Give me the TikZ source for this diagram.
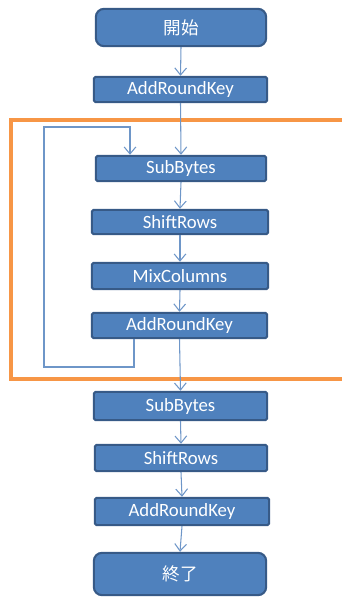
\documentclass[tikz,border=0pt]{standalone}
\usepackage{fontspec}
\setmainfont{Carlito}
\newfontfamily\jpfont{Noto Sans CJK JP}
\usetikzlibrary{arrows.meta}
\definecolor{boxfill}{HTML}{4F81BD}
\definecolor{boxline}{HTML}{375A87}
\definecolor{flowline}{HTML}{6E96C8}
\definecolor{loopframe}{HTML}{F79646}
\begin{document}
\begin{tikzpicture}[x=0.03cm,y=-0.03cm,
  procbox/.style={rectangle,rounded corners=1.5pt,draw=boxline,line width=1.8pt,fill=boxfill,text=white,font=\fontsize{16}{18}\selectfont,inner sep=0pt},
  termbox/.style={procbox,rounded corners=7pt,font=\jpfont\fontsize{15}{18}\selectfont},
  flow/.style={draw=flowline,line width=0.9pt,-{Straight Barb[length=6pt,width=10pt]}}]
\useasboundingbox (0,0) rectangle (341,598);
% round frame
\draw[loopframe,line width=3pt] (345,120) -- (11,120) -- (11,379) -- (345,379);
\node[termbox,minimum width=5.11cm,minimum height=1.12cm] (start) at (181,27.5) {開始};
\foreach \name/\x/\y/\w/\h/\txt in {ark1/180.5/89.5/5.2/0.76/AddRoundKey,sb1/181/168.5/5.11/0.76/SubBytes,sr1/180/222/5.29/0.73/ShiftRows,mc/180/276/5.29/0.79/MixColumns,ark2/179.5/325.5/5.26/0.76/AddRoundKey,sb2/180.5/406/5.2/0.85/SubBytes,sr2/181/458/5.17/0.79/ShiftRows,ark3/182/511.5/5.23/0.82/AddRoundKey}
{
\node[procbox,minimum width=\w cm,minimum height=\h cm] (\name) at (\x,\y) {\txt};
}
\node[termbox,minimum width=5.17cm,minimum height=1.27cm] (end) at (180,574) {終了};
\foreach \a/\b in {start/ark1,ark1/sb1,sb1/sr1,sr1/mc,mc/ark2,ark2/sb2,sb2/sr2,sr2/ark3,ark3/end}
{
\draw[flow] (\a.south) -- (\b.north);
}
% loop back
\coordinate (lpa) at (134,367);
\coordinate (lpb) at (44,127);
\coordinate (lpc) at (130,127);
\draw[flow] (ark2.south -| lpa) -- (lpa) -| (lpb) -- (lpc) -- (sb1.north -| lpc);
\end{tikzpicture}
\end{document}
